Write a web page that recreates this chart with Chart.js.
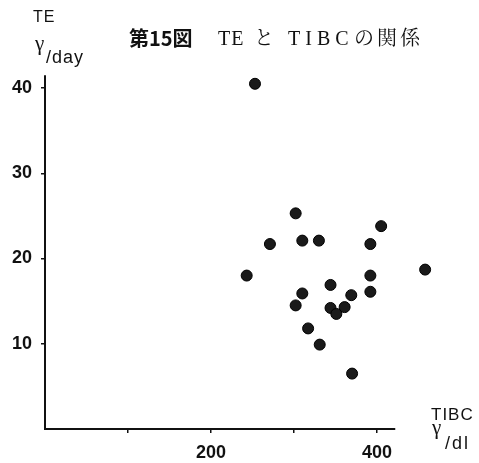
<!DOCTYPE html>
<html><head><meta charset="utf-8">
<script src="https://cdn.jsdelivr.net/npm/chart.js@4/dist/chart.umd.min.js"></script>
<style>html,body{margin:0;padding:0;background:#fff;}#c{display:block;}</style>
</head><body>
<canvas id="c" width="479" height="463"></canvas>
<script>
// ---- data ----
const tibc = [253, 302, 405, 271, 310, 330, 392, 243, 392, 458, 344, 310, 392, 369, 302, 344, 361, 351, 317, 331, 370];
const te   = [40.5, 25.3, 23.8, 21.7, 22.1, 22.1, 21.7, 18.0, 18.0, 18.7, 16.9, 15.9, 16.1, 15.7, 14.5, 14.2, 14.3, 13.5, 11.8, 9.9, 6.5];
const xTickValues = [100, 200, 300, 400];
const xTickLabels = ['', '200', '', '400'];
const yTickValues = [10, 20, 30, 40];
const yTickLabels = ['10', '20', '30', '40'];
const titleText = '第15図 TE と TIBC の関係';
const yAxisTitle = ['TE', 'γ', '/day'];
const xAxisTitle = ['TIBC', 'γ', '/dl'];
const xAxisEnd = 422;
const yAxisTop = 41.5;

const points = tibc.map((v, i) => ({x: v, y: te[i]}));
const tickFont = {family: "'Liberation Sans', Arial, sans-serif", size: 18, weight: 'bold'};

const axisLines = {
  id: 'axisLines',
  beforeDatasetsDraw(chart) {
    const {ctx, scales: {x, y}} = chart;
    ctx.save();
    ctx.strokeStyle = '#111';
    ctx.lineWidth = 2;
    ctx.beginPath();
    ctx.moveTo(x.getPixelForValue(0), y.getPixelForValue(yAxisTop));
    ctx.lineTo(x.getPixelForValue(0), y.getPixelForValue(0));
    ctx.lineTo(x.getPixelForValue(xAxisEnd), y.getPixelForValue(0));
    ctx.stroke();
    ctx.restore();
  }
};

function drawText(ctx, text, x, y, font, spacing) {
  ctx.font = font;
  ctx.letterSpacing = (spacing || 0) + 'px';
  ctx.fillText(text, x, y);
}

const texts = {
  id: 'texts',
  afterDraw(chart) {
    const ctx = chart.ctx;
    ctx.save();
    ctx.fillStyle = '#111';
    ctx.textBaseline = 'alphabetic';
    ctx.textAlign = 'left';
    const parts = titleText.split(' ');
    const cjkBold = "bold 20px 'Noto Sans CJK JP', sans-serif";
    const serif = "20px 'Liberation Serif', 'DejaVu Serif', serif";
    const cjk = "20px 'Noto Serif CJK JP', 'Noto Sans CJK JP', sans-serif";
    drawText(ctx, parts[0], 129, 46, cjkBold, 0);
    drawText(ctx, parts[1], 218, 45, serif, 1);
    drawText(ctx, parts[2], 254, 45, cjk, 0);
    drawText(ctx, parts[3], 288, 45, serif, 5);
    drawText(ctx, parts[4], 354, 45, cjk, 3);
    drawText(ctx, yAxisTitle[0], 33, 22, "16px 'Liberation Sans', Arial, sans-serif", 1);
    drawText(ctx, yAxisTitle[1], 35, 50, "21px 'Liberation Serif', serif", 0);
    drawText(ctx, yAxisTitle[2], 46, 63, "18px 'Liberation Sans', Arial, sans-serif", 1);
    drawText(ctx, xAxisTitle[0], 431, 420, "17px 'Liberation Sans', Arial, sans-serif", 1);
    drawText(ctx, xAxisTitle[1], 432, 434, "21px 'Liberation Serif', serif", 0);
    drawText(ctx, xAxisTitle[2], 445, 449, "18px 'Liberation Sans', Arial, sans-serif", 2);
    ctx.restore();
  }
};

new Chart(document.getElementById('c'), {
  type: 'scatter',
  data: {
    datasets: [{
      data: points,
      pointRadius: 5.5,
      pointHoverRadius: 5.5,
      backgroundColor: '#1a1a1a',
      borderColor: '#000',
      borderWidth: 1
    }]
  },
  options: {
    responsive: false,
    animation: false,
    events: [],
    layout: {padding: {top: 71, right: 19, left: 0, bottom: 0}},
    plugins: {legend: {display: false}, tooltip: {enabled: false}, title: {display: false}},
    scales: {
      x: {
        type: 'linear', min: 0, max: 500,
        afterFit(s) { s.height = 34; },
        afterBuildTicks(s) { s.ticks = xTickValues.map(v => ({value: v})); },
        ticks: {
          autoSkip: false, maxRotation: 0, color: '#111', font: tickFont, padding: 9,
          callback: (v) => xTickLabels[xTickValues.indexOf(v)] ?? ''
        },
        grid: {display: true, drawOnChartArea: false, drawTicks: true, tickLength: 4, color: '#111', lineWidth: 1.5},
        border: {display: false}
      },
      y: {
        type: 'linear', min: 0, max: 42,
        afterFit(s) { s.width = 45; },
        afterBuildTicks(s) { s.ticks = yTickValues.map(v => ({value: v})); },
        ticks: {
          autoSkip: false, color: '#111', font: tickFont, padding: 9,
          callback: (v) => yTickLabels[yTickValues.indexOf(v)] ?? ''
        },
        grid: {display: true, drawOnChartArea: false, drawTicks: true, tickLength: 4, color: '#111', lineWidth: 1.5},
        border: {display: false}
      }
    }
  },
  plugins: [axisLines, texts]
});
</script>
</body></html>
